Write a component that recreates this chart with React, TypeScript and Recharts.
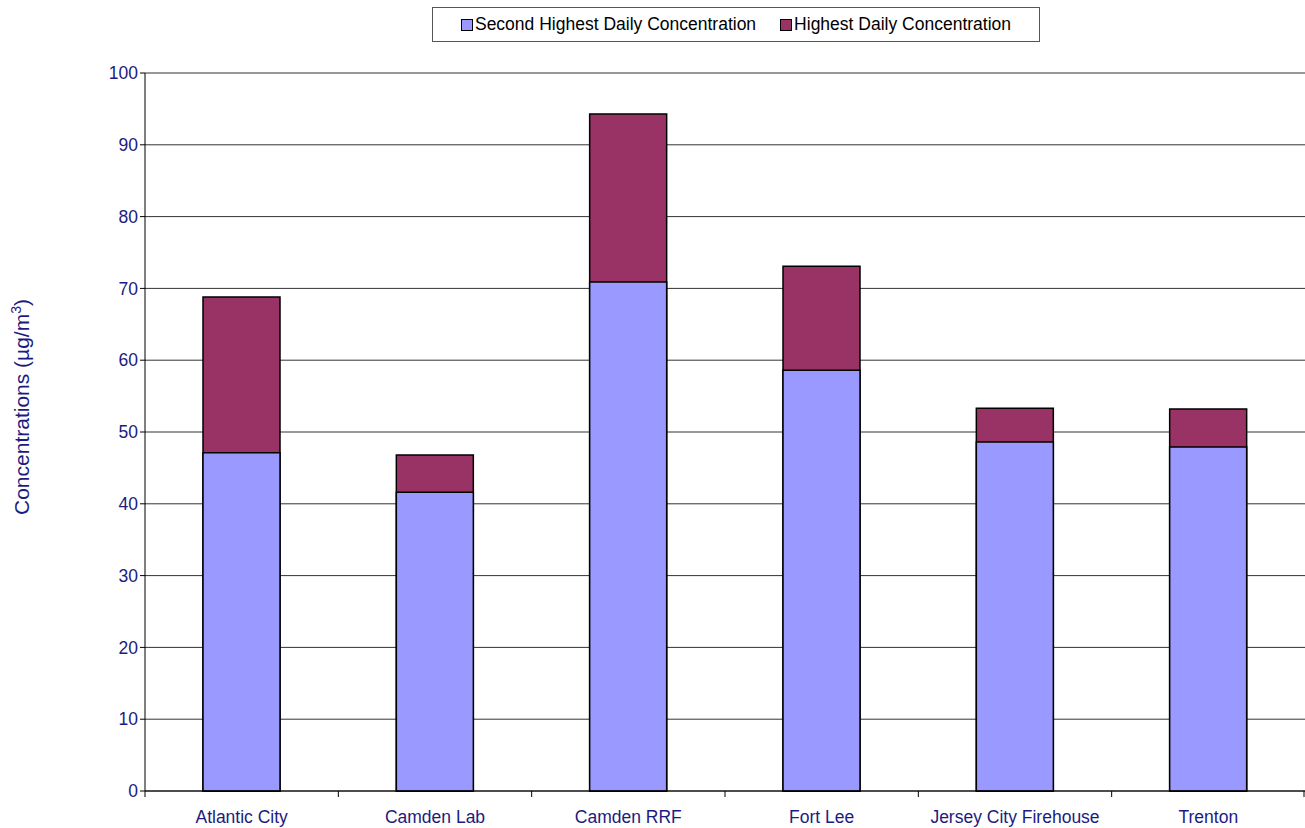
import React from "react";
import {
  BarChart,
  Bar,
  XAxis,
  YAxis,
  CartesianGrid,
} from "recharts";

const sites = [
  "Atlantic City",
  "Camden Lab",
  "Camden RRF",
  "Fort Lee",
  "Jersey City Firehouse",
  "Trenton",
];
const secondHighest = [47.1, 41.6, 70.9, 58.6, 48.6, 47.9];
const highest = [68.8, 46.8, 94.3, 73.1, 53.3, 53.2];
const yTicks = [0, 10, 20, 30, 40, 50, 60, 70, 80, 90, 100];

const data = sites.map((site, i) => ({
  site,
  second: secondHighest[i],
  highest: highest[i],
}));

const NAVY = "#1c1c80";
const FONT = "'Liberation Sans', Arial, sans-serif";

const series = [
  { name: "Second Highest Daily Concentration", color: "#9999ff" },
  { name: "Highest Daily Concentration", color: "#993366" },
];

const LegendBox = () => (
  <div
    style={{
      position: "absolute",
      left: 432,
      top: 7,
      width: 606,
      height: 33,
      boxSizing: "content-box",
      display: "flex",
      alignItems: "center",
      justifyContent: "center",
      gap: 24,
      border: "1px solid #555",
      fontFamily: FONT,
      fontSize: 17.5,
      color: "#000",
      background: "#fff",
    }}
  >
    {series.map((s) => (
      <div key={s.name} style={{ display: "flex", alignItems: "center" }}>
        <span
          style={{
            width: 10,
            height: 10,
            background: s.color,
            border: "1px solid #000",
            marginRight: 2,
            display: "inline-block",
          }}
        />
        <span>{s.name}</span>
      </div>
    ))}
  </div>
);

// category label + tick mark at the left edge of each band (Excel style)
const CategoryTick = (props: any) => {
  const { x, y, payload, index } = props;
  const half = payload?.offset ?? 96.7;
  return (
    <g>
      <line x1={x - half} y1={y - 8} x2={x - half} y2={y - 2} stroke="#000" />
      {index === sites.length - 1 && (
        <line x1={x + half - 1} y1={y - 8} x2={x + half - 1} y2={y - 2} stroke="#000" />
      )}
      <text
        x={x}
        y={y + 24}
        textAnchor="middle"
        fill={NAVY}
        fontSize={17.5}
        fontFamily={FONT}
      >
        {payload.value}
      </text>
    </g>
  );
};

const YLabel = () => (
  <text
    x={29}
    y={407}
    transform="rotate(-90 29 407)"
    textAnchor="middle"
    fill={NAVY}
    fontSize={21}
    fontFamily={FONT}
  >
    Concentrations (µg/m
    <tspan dy={-8} fontSize={14}>3</tspan>
    <tspan dy={8}>)</tspan>
  </text>
);

export default function App() {
  return (
    <div style={{ position: "absolute", left: 0, top: 0, width: 1305, height: 828, background: "#fff" }}>
      <BarChart
        width={1305}
        height={828}
        data={data}
        margin={{ top: 73, right: 0, bottom: 0, left: 0 }}
        barCategoryGap="30%"
      >
        <CartesianGrid
          horizontal
          vertical={false}
          stroke="#333"
          strokeOpacity={1}
        />
        <XAxis
          xAxisId="back"
          dataKey="site"
          stroke="#000"
          tickLine={false}
          tick={<CategoryTick />}
          height={37}
        />
        <XAxis xAxisId="front" dataKey="site" hide />
        <YAxis
          width={145}
          domain={[0, 100]}
          ticks={yTicks}
          interval={0}
          stroke="#000"
          tickSize={5}
          tick={{ fill: NAVY, fontSize: 17.5, fontFamily: FONT }}
          label={<YLabel />}
        />
        <Bar
          xAxisId="back"
          dataKey="highest"
          name={series[1].name}
          fill={series[1].color}
          stroke="#000"
          strokeWidth={1.5}
          isAnimationActive={false}
        />
        <Bar
          xAxisId="front"
          dataKey="second"
          name={series[0].name}
          fill={series[0].color}
          stroke="#000"
          strokeWidth={1.5}
          isAnimationActive={false}
        />
      </BarChart>
      <LegendBox />
    </div>
  );
}
